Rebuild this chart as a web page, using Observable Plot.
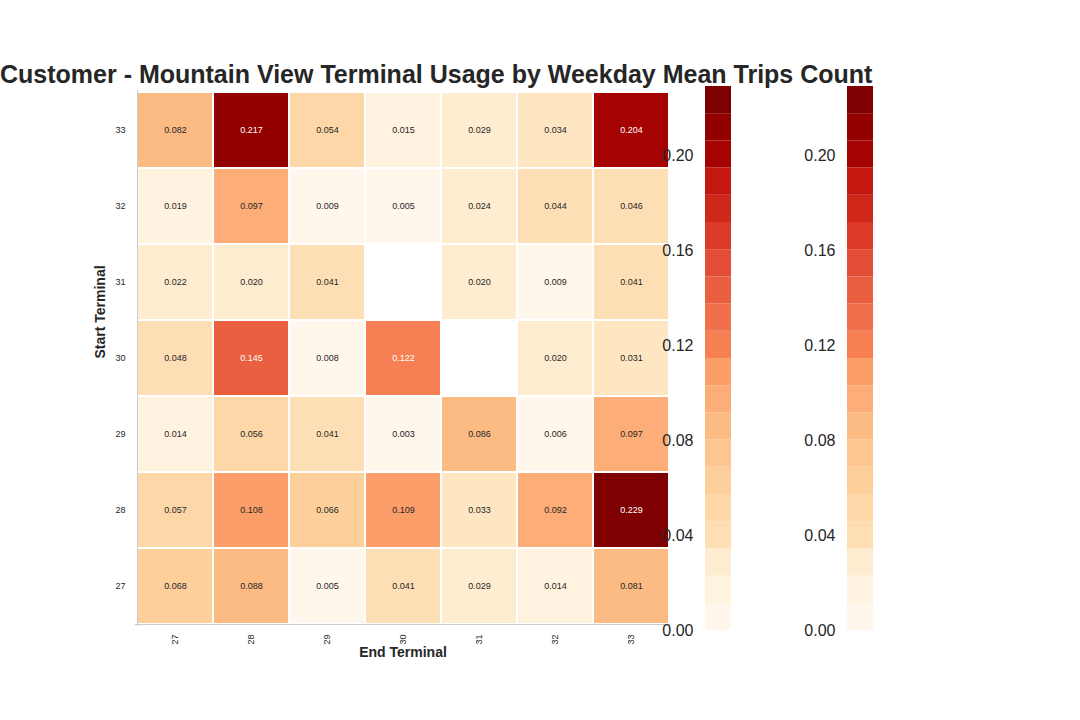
<!DOCTYPE html>
<html><head><meta charset="utf-8">
<script src="https://cdn.jsdelivr.net/npm/d3@7"></script>
<script src="https://cdn.jsdelivr.net/npm/@observablehq/plot@0.6"></script>
<style>
body{margin:0;background:#fff;font-family:"Liberation Sans",Arial,sans-serif}
#wrap{position:relative;width:1080px;height:720px;overflow:hidden}
#wrap>div,#wrap>svg{position:absolute}
#title{top:60px;left:0;width:840px;text-align:center;white-space:nowrap;font-weight:bold;font-size:25px;color:#262626}
</style></head><body>
<div id="wrap"><div id="title">Customer - Mountain View Terminal Usage by Weekday Mean Trips Count</div></div>
<script>
const terminals = ["27","28","29","30","31","32","33"]
// rows: start terminal, columns: end terminal 27..33
const startTerminals = ["33","32","31","30","29","28","27"]
const meanTrips = [
  [0.082,0.217,0.054,0.015,0.029,0.034,0.204],
  [0.019,0.097,0.009,0.005,0.024,0.044,0.046],
  [0.022,0.020,0.041,null,0.020,0.009,0.041],
  [0.048,0.145,0.008,0.122,null,0.020,0.031],
  [0.014,0.056,0.041,0.003,0.086,0.006,0.097],
  [0.057,0.108,0.066,0.109,0.033,0.092,0.229],
  [0.068,0.088,0.005,0.041,0.029,0.014,0.081]
]
const vmax = 0.229
const barTicks = [0, 0.04, 0.08, 0.12, 0.16, 0.20]

const cells = []
startTerminals.forEach((s, i) => terminals.forEach((e, j) => {
  if (meanTrips[i][j] != null) cells.push({start: s, end: e, v: meanTrips[i][j]})
}))

const colorOpt = {type: "quantize", n: 20, scheme: "OrRd", domain: [0, vmax]}
const wrap = document.getElementById("wrap")

let heat = Plot.plot({
  width: 1080, height: 720,
  marginLeft: 135, marginRight: 410, marginTop: 90, marginBottom: 94,
  style: {fontFamily: "Liberation Sans, Arial, sans-serif", fontSize: "9px", color: "#262626"},
  x: {domain: terminals, padding: 0, label: null, tickSize: 0, tickRotate: -90, tickPadding: 8},
  y: {domain: [...terminals].reverse(), padding: 0, label: null, tickSize: 0, tickPadding: 10},
  color: colorOpt,
  marks: [
    Plot.cell(cells, {x: "end", y: "start", fill: "v", stroke: "white", strokeWidth: 2}),
    Plot.text(cells, {x: "end", y: "start", text: d => d.v.toFixed(3), fontSize: 9,
      fill: d => d.v > 0.115 ? "white" : "#262626"}),
    Plot.ruleX([0], {x: () => "27", dx: -38, stroke: "#ccc"}),
    Plot.ruleY([0], {y: () => "27", dy: 38, stroke: "#ccc"}),
    Plot.text(["End Terminal"], {frameAnchor: "bottom", dy: 30, fontSize: 14, fontWeight: "bold"}),
    Plot.text(["Start Terminal"], {frameAnchor: "left", dx: -35, rotate: -90, fontSize: 14, fontWeight: "bold"})
  ]
})
heat.style.left = "0px"; heat.style.top = "0px"
wrap.appendChild(heat)

const step = vmax / 20
const bands = d3.range(20).map(k => ({y1: k * step, y2: (k + 1) * step, v: (k + 0.5) * step}))

function colorbar(left) {
  let bar = Plot.plot({
    width: 80, height: 720,
    marginLeft: 45, marginRight: 9, marginTop: 86, marginBottom: 90,
    style: {fontFamily: "Liberation Sans, Arial, sans-serif", fontSize: "16px", color: "#262626"},
    x: {domain: [0, 1], axis: null},
    y: {domain: [0, vmax], ticks: barTicks, tickFormat: ".2f", tickSize: 0, tickPadding: 12, label: null},
    color: colorOpt,
    marks: [Plot.rect(bands, {x1: 0, x2: 1, y1: "y1", y2: "y2", fill: "v"})]
  })
  bar.style.left = left + "px"; bar.style.top = "0px"
  wrap.appendChild(bar)
}
colorbar(660)
colorbar(802)
</script>
</body></html>
